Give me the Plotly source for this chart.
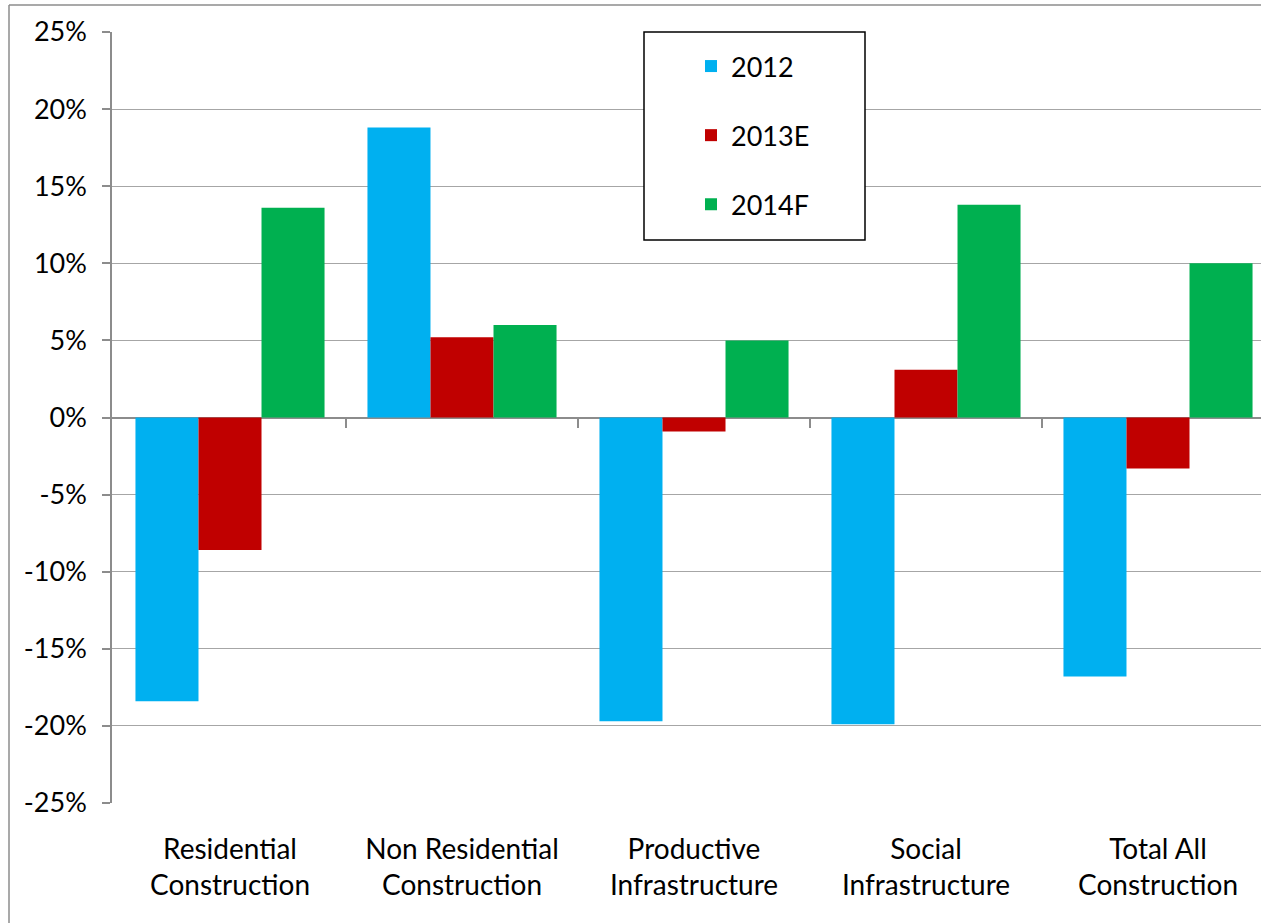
import plotly.graph_objects as go

categories = ["Residential<br>Construction", "Non Residential<br>Construction",
              "Productive<br>Infrastructure", "Social<br>Infrastructure",
              "Total All<br>Construction"]
series_names = ["2012", "2013E", "2014F"]
values_2012 = [-18.4, 18.8, -19.7, -19.9, -16.8]
values_2013E = [-8.6, 5.2, -0.9, 3.1, -3.3]
values_2014F = [13.6, 6.0, 5.0, 13.8, 10.0]
colors = ["#00B0F0", "#C00000", "#00B050"]
y_ticks = [-25, -20, -15, -10, -5, 0, 5, 10, 15, 20, 25]
boundary_ticks = [0.5, 1.5, 2.5, 3.5]

FONT = "Lato"
W, H = 1261, 923
L, R, T, B = 112, 0, 32, 120
pw, ph = W - L - R, H - T - B
X0 = -0.5 - 2.0 / 232.0
XR = [X0, X0 + pw / 232.0]

def px(x):
    return (x - L) / pw

def py(y):
    return (H - B - y) / ph

fig = go.Figure()
for i, (name, vals) in enumerate(zip(series_names, [values_2012, values_2013E, values_2014F])):
    fig.add_trace(go.Bar(x=categories, y=vals, name=name,
                         marker=dict(color=colors[i], line=dict(width=0)),
                         legendgroup=name))
# empty helper trace so the boundary-tick axis at 0% is drawn
fig.add_trace(go.Scatter(x=[], y=[], xaxis="x2", yaxis="y", showlegend=False,
                         hoverinfo="skip"))

fig.update_layout(
    width=W, height=H,
    margin=dict(l=L, r=R, t=T, b=B, autoexpand=False),
    paper_bgcolor="white", plot_bgcolor="white",
    barmode="group", bargap=0.185, bargroupgap=0,
    font=dict(family=FONT, size=27, color="black"),
    xaxis=dict(range=XR, showgrid=False, showline=False, ticks="",
               tickfont=dict(family=FONT, size=28),
               ticklabelstandoff=27, zeroline=False),
    xaxis2=dict(overlaying="x", anchor="free", position=py(418), range=XR,
                tickmode="array", tickvals=boundary_ticks, ticks="outside",
                ticklen=9, tickcolor="#8c8c8c", tickwidth=1.5, showticklabels=False,
                showgrid=False, showline=False, zeroline=False),
    yaxis=dict(range=[-25, 25], tickmode="array", tickvals=y_ticks,
               ticktext=[f"{v}%" for v in y_ticks], showgrid=True, gridcolor="#a6a6a6",
               gridwidth=1.2, showline=True, linecolor="#8c8c8c", linewidth=1.5,
               ticks="outside", ticklen=8, tickcolor="#8c8c8c", tickwidth=1.5,
               zeroline=True, zerolinecolor="#8c8c8c", zerolinewidth=1.8,
               tickfont=dict(size=27), ticklabelstandoff=10),
    legend=dict(x=px(691), y=py(42), xanchor="left", yanchor="top",
                bgcolor="rgba(0,0,0,0)", borderwidth=0, tracegroupgap=31,
                font=dict(size=27), traceorder="grouped"),
    showlegend=True,
    shapes=[
        dict(type="rect", xref="paper", yref="paper", x0=px(644), x1=px(865),
             y0=py(240), y1=py(32), line=dict(color="black", width=1.5),
             fillcolor="white", layer="above"),
        dict(type="line", xref="paper", yref="paper", x0=px(9), x1=px(1261),
             y0=py(5), y1=py(5), line=dict(color="#8c8c8c", width=1.5)),
        dict(type="line", xref="paper", yref="paper", x0=px(9), x1=px(9),
             y0=py(5), y1=py(923), line=dict(color="#8c8c8c", width=1.5)),
    ],
)
fig.write_html("out.html")
